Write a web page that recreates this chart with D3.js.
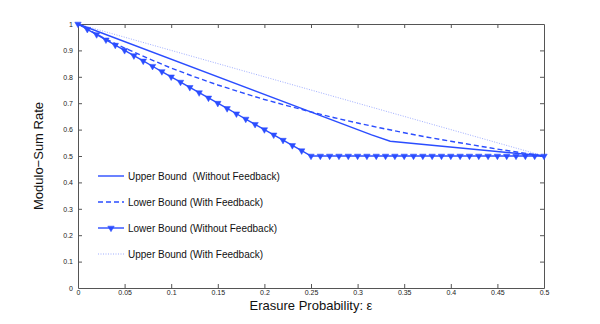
<!DOCTYPE html>
<html><head><meta charset="utf-8">
<script src="https://cdn.jsdelivr.net/npm/d3@7"></script>
<style>body{margin:0;background:#fff}svg{display:block}text{font-family:"Liberation Sans",Arial,Helvetica,sans-serif}</style>
</head><body><svg id="c" width="600" height="324"></svg>
<script>
// ---- data ----
const xTicks = [0,0.05,0.1,0.15,0.2,0.25,0.3,0.35,0.4,0.45,0.5];
const xTickLabels = ["0","0.05","0.1","0.15","0.2","0.25","0.3","0.35","0.4","0.45","0.5"];
const yTicks = [0,0.1,0.2,0.3,0.4,0.5,0.6,0.7,0.8,0.9,1];
const yTickLabels = ["0","0.1","0.2","0.3","0.4","0.5","0.6","0.7","0.8","0.9","1"];
const seriesNames = ["Upper Bound  (Without Feedback)","Lower Bound (With Feedback)","Lower Bound (Without Feedback)","Upper Bound (With Feedback)"];

const upperNoFbX = [0, 0.315, 0.335, 0.5];
const upperNoFbY = [1, 0.58, 0.556, 0.5];

const lowerFbX = [0,0.025,0.05,0.075,0.1,0.125,0.15,0.175,0.2,0.225,0.25,0.275,0.3,0.325,0.35,0.375,0.4,0.425,0.45,0.475,0.5];
const lowerFbY = [1,0.952,0.909,0.870,0.833,0.800,0.769,0.741,0.714,0.690,0.667,0.645,0.625,0.606,0.588,0.571,0.556,0.541,0.526,0.513,0.5];

const lowerNoFbX = [0,0.01,0.02,0.03,0.04,0.05,0.06,0.07,0.08,0.09,0.1,0.11,0.12,0.13,0.14,0.15,0.16,0.17,0.18,0.19,0.2,0.21,0.22,0.23,0.24,0.25,0.26,0.27,0.28,0.29,0.3,0.31,0.32,0.33,0.34,0.35,0.36,0.37,0.38,0.39,0.4,0.41,0.42,0.43,0.44,0.45,0.46,0.47,0.48,0.49,0.5];
const lowerNoFbY = [1,0.98,0.96,0.94,0.92,0.9,0.88,0.86,0.84,0.82,0.8,0.78,0.76,0.74,0.72,0.7,0.68,0.66,0.64,0.62,0.6,0.58,0.56,0.54,0.52,0.5,0.5,0.5,0.5,0.5,0.5,0.5,0.5,0.5,0.5,0.5,0.5,0.5,0.5,0.5,0.5,0.5,0.5,0.5,0.5,0.5,0.5,0.5,0.5,0.5,0.5];

const upperFbX = [0, 0.5];
const upperFbY = [1, 0.5];

// ---- layout ----
const L = 78, R = 544, T = 24, B = 288;
const svg = d3.select("#c");
const x = d3.scaleLinear().domain([0,0.5]).range([L,R]);
const y = d3.scaleLinear().domain([0,1]).range([B,T]);
const axisCol = "#555";
const blue = "#2b4dff";

// frame + ticks
const gx = svg.append("g").attr("transform",`translate(0,${B})`)
  .call(d3.axisBottom(x).tickValues(xTicks).tickFormat((d,i)=>xTickLabels[i]).tickSizeInner(-4).tickSizeOuter(0).tickPadding(2));
const gxt = svg.append("g").attr("transform",`translate(0,${T})`)
  .call(d3.axisTop(x).tickValues(xTicks).tickFormat("").tickSizeInner(-4).tickSizeOuter(0));
const gy = svg.append("g").attr("transform",`translate(${L},0)`)
  .call(d3.axisLeft(y).tickValues(yTicks).tickFormat((d,i)=>yTickLabels[i]).tickSizeInner(-4).tickSizeOuter(0).tickPadding(5));
const gyr = svg.append("g").attr("transform",`translate(${R},0)`)
  .call(d3.axisRight(y).tickValues(yTicks).tickFormat("").tickSizeInner(-4).tickSizeOuter(0));
[gx,gxt,gy,gyr].forEach(g=>{
  g.selectAll("path,line").attr("stroke",axisCol).attr("stroke-width",1);
  g.selectAll("text").attr("fill","#222").style("font-size","7px").style("font-family","'Liberation Sans',Arial,sans-serif");
});
gx.selectAll(".tick line").filter(d=>d===0||d===0.5).remove();
gxt.selectAll(".tick line").filter(d=>d===0||d===0.5).remove();
gy.selectAll(".tick line").filter(d=>d===0||d===1).remove();
gyr.selectAll(".tick line").filter(d=>d===0||d===1).remove();

// data lines
const line = d3.line().x(d=>x(d[0])).y(d=>y(d[1]));
const zip = (a,b)=>a.map((v,i)=>[v,b[i]]);
const plot = svg.append("g");
plot.append("path").datum(zip(upperFbX,upperFbY)).attr("d",line)
  .attr("fill","none").attr("stroke","#9fadff").attr("stroke-width",1).attr("stroke-dasharray","1,1.5");
plot.append("path").datum(zip(lowerFbX,lowerFbY)).attr("d",line)
  .attr("fill","none").attr("stroke",blue).attr("stroke-width",1.4).attr("stroke-dasharray","5,3");
plot.append("path").datum(zip(upperNoFbX,upperNoFbY)).attr("d",line)
  .attr("fill","none").attr("stroke",blue).attr("stroke-width",1.4);
plot.append("path").datum(zip(lowerNoFbX,lowerNoFbY)).attr("d",line)
  .attr("fill","none").attr("stroke",blue).attr("stroke-width",1.4);
const tri = d3.symbol().type(d3.symbolTriangle).size(18);
plot.selectAll(".m").data(zip(lowerNoFbX,lowerNoFbY)).join("path")
  .attr("d",tri).attr("transform",d=>`translate(${x(d[0])},${y(d[1])}) rotate(180)`)
  .attr("fill",blue).attr("stroke",blue).attr("stroke-width",0.5);

// legend
const legY = [176,202,228,254];
const lg = svg.append("g");
seriesNames.forEach((n,i)=>{
  const yy = legY[i];
  const l = lg.append("line").attr("x1",98).attr("x2",124).attr("y1",yy).attr("y2",yy).attr("fill","none");
  if(i===3) l.attr("stroke","#9fadff").attr("stroke-width",1).attr("stroke-dasharray","1,1.5");
  else l.attr("stroke",blue).attr("stroke-width",1.4);
  if(i===1) l.attr("stroke-dasharray","5,3");
  if(i===2) lg.append("path").attr("d",tri).attr("transform",`translate(111,${yy}) rotate(180)`).attr("fill",blue).attr("stroke",blue).attr("stroke-width",0.5);
  lg.append("text").attr("x",128).attr("y",yy).attr("dy","0.35em").style("font-size","10px").attr("fill","#111").text(n).style("white-space","pre");
});

// axis labels
svg.append("text").attr("x",(L+R)/2).attr("y",310).attr("text-anchor","middle").style("font-size","13px").attr("fill","#111").text("Erasure Probability: ε");
svg.append("text").attr("transform",`translate(43,${(T+B)/2}) rotate(-90)`).attr("text-anchor","middle").style("font-size","13px").attr("fill","#111").text("Modulo\u2212Sum Rate");
</script></body></html>
